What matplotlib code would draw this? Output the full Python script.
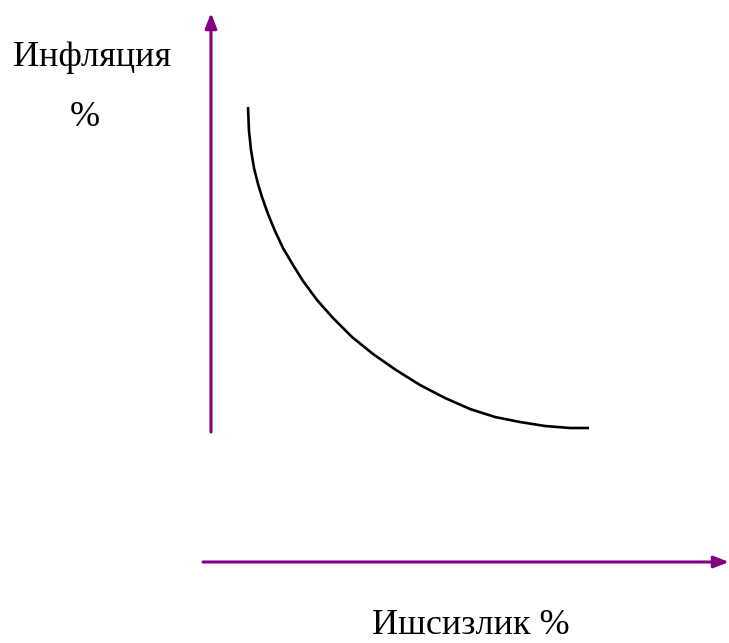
import matplotlib.pyplot as plt

# curve points (x = unemployment, y = inflation), in picture units
unemp = [248, 249, 251, 254, 258, 262, 268, 275, 283, 293, 303, 317,
         333, 352, 373, 396, 420, 445, 470, 495, 520, 545, 570, 589]
infl = [107, 131, 150, 168, 184, 197, 214, 231, 248, 265, 281, 300,
        318, 337, 354, 370, 385, 398, 409, 417, 422, 426, 428, 428]

y_label = 'Инфляция'
y_unit = '%'
x_label = 'Ишсизлик %'

purple = '#800080'

fig = plt.figure(figsize=(7.29, 6.43), dpi=100)
ax = fig.add_axes([0, 0, 1, 1])
ax.set_xlim(0, 729)
ax.set_ylim(643, 0)
ax.axis('off')

# axes arrows
ax.annotate('', xy=(211, 13), xytext=(211, 432),
            arrowprops=dict(arrowstyle='-|>,head_length=0.9,head_width=0.35',
                            color=purple, lw=2.2, shrinkA=0, shrinkB=0))
ax.annotate('', xy=(729, 562), xytext=(203, 562),
            arrowprops=dict(arrowstyle='-|>,head_length=0.9,head_width=0.35',
                            color=purple, lw=2.2, shrinkA=0, shrinkB=0))

ax.plot(unemp, infl, color='black', lw=1.9, solid_capstyle='butt',
        solid_joinstyle='round')

font = dict(family='Liberation Serif', size=26, color='black')
ax.text(13, 66, y_label, va='baseline', ha='left', **font)
ax.text(70, 126, y_unit, va='baseline', ha='left', **font)
ax.text(372, 634, x_label, va='baseline', ha='left', **font)

fig.savefig('out.png', dpi=100)
